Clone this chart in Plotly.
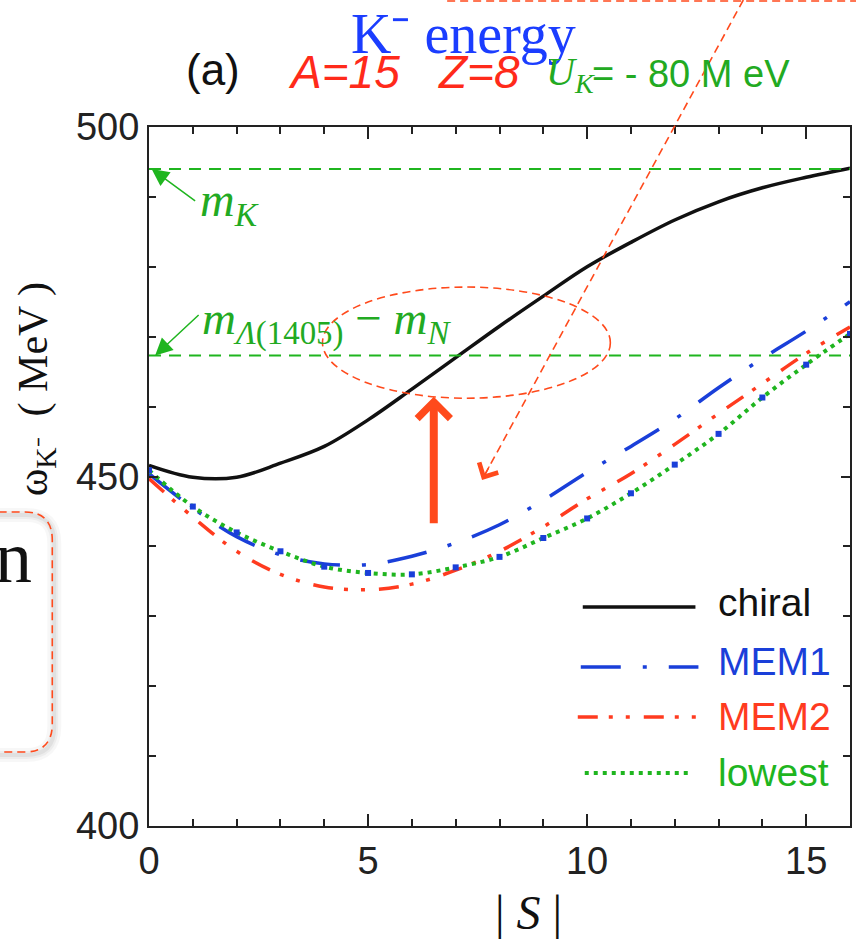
import plotly.graph_objects as go

# ---------------- data ----------------
S = list(range(17))
chiral = [451.6, 449.9, 449.9, 451.9, 454.3, 458.1, 462.5, 467.0, 471.5, 475.8,
          480.0, 483.5, 486.7, 489.3, 491.3, 492.8, 494.1]
mem1 = [450.4, 445.5, 441.4, 438.8, 437.5, 437.4, 438.6, 440.5, 443.1, 446.6,
        450.6, 454.3, 458.2, 462.7, 466.9, 470.8, 475.0]
mem2 = [449.7, 444.2, 439.3, 436.0, 434.2, 433.8, 434.6, 436.6, 439.3, 442.8,
        446.8, 450.4, 454.6, 459.0, 463.3, 467.6, 471.4]
lowest = [450.9, 445.7, 442.0, 439.3, 437.1, 436.2, 436.0, 437.0, 438.5, 441.2,
          444.0, 447.6, 451.7, 456.1, 461.3, 466.0, 470.4]
m_K = 494.0
m_L1405_minus_m_N = 467.3
series_names = ["chiral", "MEM1", "MEM2", "lowest"]

# ---------------- style ----------------
W, H = 856, 942
L, R, T, B = 149, 4, 127, 116
PW, PH = W - L - R, H - T - B

def px(X):
    return (X - L) / PW

def py(Y):
    return (H - B - Y) / PH

SANS = "Liberation Sans, Arial, sans-serif"
SERIF = "Liberation Serif, Times New Roman, serif"
BLACK = "#111111"
BLUE = "#1a3fd9"
RED = "#ff3b1f"
GREEN = "#1fb51f"
GTXT = "#22aa22"
ORANGE = "#ff4a1c"

DASH_MEM1 = "40px,22px,4px,22px"
DASH_MEM2 = "20px,11px,4px,13px,4px,14px"
DASH_LOW = "4px,5px"

fig = go.Figure()

fig.add_trace(go.Scatter(x=S, y=chiral, mode="lines", name=series_names[0],
                         line=dict(color=BLACK, width=3.5, shape="spline"), showlegend=False))
fig.add_trace(go.Scatter(x=S, y=mem1, mode="lines", name=series_names[1],
                         line=dict(color=BLUE, width=3.5, dash=DASH_MEM1, shape="spline"), showlegend=False))
fig.add_trace(go.Scatter(x=S, y=mem2, mode="lines", name=series_names[2],
                         line=dict(color=RED, width=3.5, dash=DASH_MEM2, shape="spline"), showlegend=False))
fig.add_trace(go.Scatter(x=S, y=lowest, mode="lines", name=series_names[3],
                         line=dict(color=GREEN, width=4, dash=DASH_LOW, shape="spline"), showlegend=False))
fig.add_trace(go.Scatter(x=S, y=lowest, mode="markers", showlegend=False,
                         marker=dict(symbol="square", size=6, color=BLUE)))

shapes = []
# reference lines
for yv in (m_K, m_L1405_minus_m_N):
    shapes.append(dict(type="line", xref="x", yref="y", x0=0, x1=16, y0=yv, y1=yv,
                       line=dict(color=GREEN, width=2, dash="12px,8px")))
# ellipse highlight
shapes.append(dict(type="circle", xref="x", yref="y", x0=3.96, x1=10.53, y0=461.2, y1=477.1,
                   line=dict(color=ORANGE, width=1.6, dash="8px,5px")))
# thin dashed pointer line
shapes.append(dict(type="line", xref="paper", yref="paper", x0=px(745), y0=py(0), x1=px(484), y1=py(478),
                   line=dict(color=ORANGE, width=1.6, dash="8px,5px")))
# top box edge
shapes.append(dict(type="line", xref="paper", yref="paper", x0=px(448), y0=py(1), x1=px(860), y1=py(1),
                   line=dict(color=ORANGE, width=1.6, dash="8px,5px")))

# left rounded box (with faint shadow)
def box_path(dx=0, dy=0):
    r = 28
    x_r, y_t, y_b = 52 + dx, 512 + dy, 752 + dy
    pts = [
        f"M{px(-80)},{py(y_t)}",
        f"L{px(x_r - r)},{py(y_t)}",
        f"Q{px(x_r)},{py(y_t)} {px(x_r)},{py(y_t + r)}",
        f"L{px(x_r)},{py(y_b - r)}",
        f"Q{px(x_r)},{py(y_b)} {px(x_r - r)},{py(y_b)}",
        f"L{px(-80)},{py(y_b)}",
    ]
    return " ".join(pts)

for w, a in ((14, 0.03), (8, 0.04), (4, 0.05)):
    shapes.append(dict(type="path", xref="paper", yref="paper", path=box_path(2, 3),
                       line=dict(color=f"rgba(0,0,0,{a})", width=w)))
shapes.append(dict(type="path", xref="paper", yref="paper", path=box_path(),
                   line=dict(color=ORANGE, width=1.6, dash="8px,5px")))

# legend samples (manual)
leg_rows = [
    (series_names[0], BLACK, "solid", 3.5, 584, 697, 607, 602),
    (series_names[1], BLUE, DASH_MEM1, 3.5, 582, 700, 667, 661),
    (series_names[2], RED, DASH_MEM2, 3.5, 579, 698, 717, 716),
    (series_names[3], GREEN, DASH_LOW, 4, 586, 691, 773, 772),
]
annotations = []
for name, col, dash, lw, xa, xb, yl, yt in leg_rows:
    shapes.append(dict(type="line", xref="paper", yref="paper", x0=px(xa), x1=px(xb), y0=py(yl), y1=py(yl),
                       line=dict(color=col, width=lw, dash=dash)))
    annotations.append(dict(xref="paper", yref="paper", x=px(718), y=py(yt), xanchor="left", yanchor="middle",
                            text=name, showarrow=False, font=dict(family=SANS, size=39, color=col)))

# titles
annotations += [
    dict(xref="paper", yref="paper", x=px(464), y=py(34), xanchor="center", yanchor="middle",
         text="K⁻ energy", showarrow=False, font=dict(family=SERIF, size=56, color="#1b3dff")),
    dict(xref="paper", yref="paper", x=px(213), y=py(70), xanchor="center", yanchor="middle",
         text="(a)", showarrow=False, font=dict(family=SANS, size=44, color=BLACK)),
    dict(xref="paper", yref="paper", x=px(345), y=py(72), xanchor="center", yanchor="middle",
         text="<i>A=15</i>", showarrow=False, font=dict(family=SANS, size=46, color="#ff2a1a")),
    dict(xref="paper", yref="paper", x=px(480), y=py(72), xanchor="center", yanchor="middle",
         text="<i>Z=8</i>", showarrow=False, font=dict(family=SANS, size=46, color="#ff2a1a")),
    dict(xref="paper", yref="paper", x=px(545), y=py(74), xanchor="left", yanchor="middle",
         text="<i>U<sub>K</sub></i>", showarrow=False, font=dict(family=SERIF, size=40, color=GTXT)),
    dict(xref="paper", yref="paper", x=px(591), y=py(74), xanchor="left", yanchor="middle",
         text="= - 80 M eV", showarrow=False, font=dict(family=SANS, size=38, color=GTXT)),
    # axis titles
    dict(xref="paper", yref="paper", x=px(36), y=py(389), xanchor="center", yanchor="middle", textangle=-90,
         text="ω<sub>K⁻</sub>  ( MeV )", showarrow=False, font=dict(family=SERIF, size=42, color=BLACK)),
    dict(xref="paper", yref="paper", x=px(530), y=py(912), xanchor="center", yanchor="middle",
         text="| <i>S</i> |", showarrow=False, font=dict(family=SERIF, size=48, color=BLACK)),
    # left box text
    dict(xref="paper", yref="paper", x=px(34), y=py(557), xanchor="right", yanchor="middle",
         text="n", showarrow=False, font=dict(family=SERIF, size=74, color=BLACK)),
    # green labels
    dict(xref="paper", yref="paper", x=px(198), y=py(203), xanchor="left", yanchor="middle",
         text="<i>m<sub>K</sub></i>", showarrow=False, font=dict(family=SERIF, size=48, color=GTXT)),
    dict(xref="paper", yref="paper", x=px(200), y=py(322), xanchor="left", yanchor="middle",
         text="<i>m</i><sub><i>Λ</i>(1405)</sub> − <i>m</i><sub><i>N</i></sub>", showarrow=False,
         font=dict(family=SERIF, size=47, color=GTXT)),
    # green arrows
    dict(xref="x", yref="y", x=0.06, y=m_K, ax=45, ay=33, text="", showarrow=True,
         arrowhead=2, arrowsize=2.3, arrowwidth=1.5, arrowcolor=GREEN),
    dict(xref="x", yref="y", x=0.14, y=m_L1405_minus_m_N, ax=45, ay=-42, text="", showarrow=True,
         arrowhead=2, arrowsize=2.3, arrowwidth=1.5, arrowcolor=GREEN),
    # big red arrow
    dict(xref="x", yref="y", x=6.5, y=461.4, ax=0, ay=128, text="", showarrow=True,
         arrowhead=4, arrowsize=0.8, arrowwidth=8, arrowcolor=ORANGE),
    # thin pointer arrowhead
    dict(xref="paper", yref="paper", x=px(483), y=py(480), ax=8, ay=-15, text="", showarrow=True,
         arrowhead=4, arrowsize=3.2, arrowwidth=1.3, arrowcolor=ORANGE),
]

axis_common = dict(showline=True, linecolor="#222222", linewidth=2, mirror="ticks", ticks="inside",
                   tickcolor="#222222", tickwidth=1.5, showgrid=False, zeroline=False,
                   tickfont=dict(family=SANS, size=38, color="#222222"))

fig.update_layout(
    width=W, height=H, autosize=False,
    margin=dict(l=L, r=R, t=T, b=B),
    paper_bgcolor="white", plot_bgcolor="white",
    showlegend=False,
    xaxis=dict(range=[0, 16], tickvals=[0, 5, 10, 15], ticklen=12,
               minor=dict(dtick=1, ticks="inside", ticklen=7, tickcolor="#222222", tickwidth=1.5),
               **axis_common),
    yaxis=dict(range=[400, 500], tickvals=[400, 450, 500], ticklen=9,
               minor=dict(dtick=10, ticks="inside", ticklen=7, tickcolor="#222222", tickwidth=1.5),
               **axis_common),
    shapes=shapes,
    annotations=annotations,
)

fig.write_html("out.html", config={"displayModeBar": False},
               post_script="document.body.style.margin='0px';document.body.style.overflow='hidden';")
